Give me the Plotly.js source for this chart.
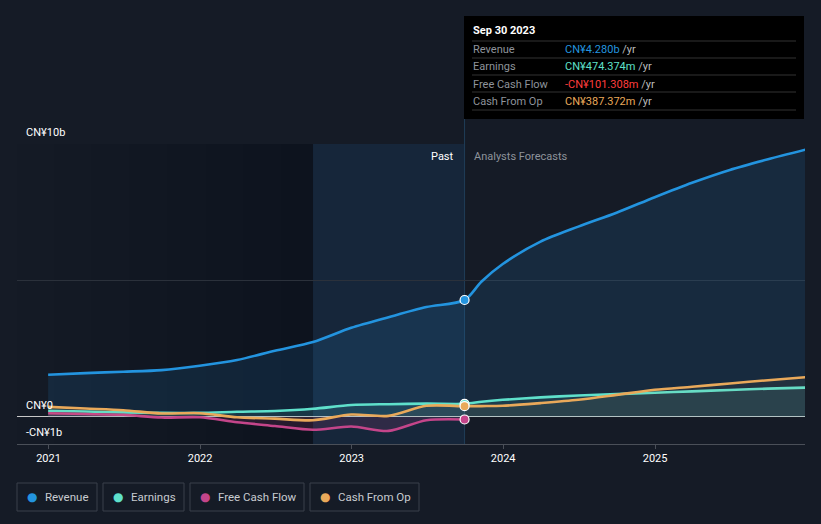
<!DOCTYPE html>
<html><head><meta charset="utf-8">
<script src="https://cdn.plot.ly/plotly-3.0.1.min.js"></script>
<style>html,body{margin:0;padding:0;background:#151b26;}#chart{width:821px;height:524px;}</style>
</head><body><div id="chart"></div>
<script>
// ---- data (CN¥, billions) ----
const pastDates = ['2020-12-31','2021-03-31','2021-06-30','2021-09-30','2021-12-31','2022-03-31','2022-06-30','2022-09-30','2022-12-31','2023-03-31','2023-06-30','2023-09-30'];
const revenuePast  = [1.54,1.60,1.65,1.71,1.87,2.08,2.42,2.74,3.26,3.65,4.02,4.280];
const earningsPast = [0.22,0.19,0.16,0.14,0.14,0.18,0.21,0.29,0.43,0.46,0.48,0.474];
const fcfPast      = [0.13,0.10,0.07,-0.03,-0.02,-0.20,-0.34,-0.48,-0.36,-0.52,-0.13,-0.101];
const cfoPast      = [0.36,0.30,0.24,0.12,0.13,-0.02,-0.07,-0.13,0.08,0.03,0.40,0.387];

const fcDates = ['2023-09-30','2023-11-10','2023-12-31','2024-03-31','2024-06-30','2024-09-30','2024-12-31','2025-03-31','2025-06-30','2025-09-30','2025-12-31'];
const revenueFc  = [4.280,4.96,5.60,6.42,6.97,7.48,8.05,8.58,9.05,9.44,9.80];
const earningsFc = [0.474,0.55,0.62,0.71,0.78,0.83,0.88,0.93,0.98,1.03,1.07];
const cfoFc      = [0.387,0.39,0.40,0.50,0.62,0.80,0.99,1.10,1.22,1.34,1.45];

const yTickVals = [10, 0, -1];
const yTickText = ['CN¥10b', 'CN¥0', '-CN¥1b'];
const xTickVals = ['2021-01-01','2022-01-01','2023-01-01','2024-01-01','2025-01-01'];
const xTickText = ['2021','2022','2023','2024','2025'];

const tipDate = 'Sep 30 2023';
const tipLabels = ['Revenue','Earnings','Free Cash Flow','Cash From Op'];
const tipValues = ['CN¥4.280b','CN¥474.374m','-CN¥101.308m','CN¥387.372m'];
const legendNames = ['Revenue','Earnings','Free Cash Flow','Cash From Op'];

const C = {rev:'#2394df', earn:'#5fe0cb', fcf:'#c4458a', cfo:'#e9a95a'};
const tipColors = ['#2394df','#5fe0cb','#ff3d3d','#e9a95a'];
const legendColors = [C.rev, C.earn, C.fcf, C.cfo];

// ---- pixel helpers for decorations ----
const L=17, R=805, T=144, B=444;
const px = x => (x-L)/(R-L);
const py = y => (B-y)/(B-T);
const font = 'Roboto, "Open Sans", sans-serif';

function line(x, y, color, fillc, name){
  return {x:x, y:y, type:'scatter', mode:'lines', name:name, line:{color:color, width:2.6, shape:'spline', smoothing:0.8},
          fill:'tozeroy', fillcolor:fillc, hoverinfo:'skip', showlegend:false, cliponaxis:false};
}
const traces = [
  line(pastDates.concat(fcDates.slice(1)), revenuePast.concat(revenueFc.slice(1)), C.rev, 'rgba(35,148,223,0.13)', 'Revenue'),
  line(pastDates.concat(fcDates.slice(1)), earningsPast.concat(earningsFc.slice(1)), C.earn, 'rgba(95,224,203,0.10)', 'Earnings'),
  line(pastDates, fcfPast, C.fcf, 'rgba(196,69,138,0.15)', 'Free Cash Flow'),
  line(pastDates.concat(fcDates.slice(1)), cfoPast.concat(cfoFc.slice(1)), C.cfo, 'rgba(233,169,90,0.06)', 'Cash From Op'),
];
const last = pastDates.length-1;
[[revenuePast,C.rev],[earningsPast,C.earn],[cfoPast,C.cfo],[fcfPast,C.fcf]].forEach(([arr,c])=>{
  traces.push({x:[pastDates[last]], y:[arr[last]], type:'scatter', mode:'markers', hoverinfo:'skip', showlegend:false, cliponaxis:false,
    marker:{size:9, color:c, line:{color:'#ffffff', width:1.2}}});
});

const shapes = [];
// darker gradient over older past
const gradStarts = ['2020-10-17','2021-01-15','2021-04-15','2021-07-15','2021-10-15','2022-01-15','2022-04-15','2022-07-15'];
gradStarts.forEach(s=>shapes.push({type:'rect', xref:'x', yref:'paper', x0:s, x1:'2022-09-30', y0:0, y1:1, fillcolor:'rgba(0,0,0,0.022)', line:{width:0}, layer:'below'}));
// last-12-months highlight
shapes.push({type:'rect', xref:'x', yref:'paper', x0:'2022-09-30', x1:'2023-09-30', y0:0, y1:1, fillcolor:'rgba(30,125,205,0.12)', line:{width:0}, layer:'below'});
// hover line
shapes.push({type:'line', xref:'x', yref:'paper', x0:'2023-09-30', x1:'2023-09-30', y0:0, y1:py(119), line:{color:'#1f3d58', width:1}, layer:'below'});
// tooltip box
shapes.push({type:'rect', xref:'paper', yref:'paper', x0:px(464), x1:px(804), y0:py(119), y1:py(16), fillcolor:'#000000', line:{width:0}});
[41,58,75,92,110].forEach(y=>shapes.push({type:'line', xref:'paper', yref:'paper', x0:px(472), x1:px(796), y0:py(y), y1:py(y), line:{color:'#333333', width:1}}));
// legend boxes
const legBoxes = [[17,97],[103,184],[190,304],[310,419]];
legBoxes.forEach(([a,b])=>shapes.push({type:'rect', xref:'paper', yref:'paper', x0:px(a), x1:px(b), y0:py(511), y1:py(483), line:{color:'#3b404b', width:1}, fillcolor:'rgba(0,0,0,0)'}));

const ann = [];
yTickVals.forEach((v,i)=>ann.push({xref:'paper', yref:'y', x:px(24), y:v, xanchor:'left', yanchor:'bottom', yshift:3, showarrow:false, text:yTickText[i], font:{family:font, size:11, color:'#ffffff'}}));
ann.push({xref:'paper', yref:'paper', x:px(456), y:py(156), xanchor:'right', yanchor:'middle', showarrow:false, text:'Past', font:{family:font, size:11, color:'#ffffff'}});
ann.push({xref:'paper', yref:'paper', x:px(472), y:py(156), xanchor:'left', yanchor:'middle', showarrow:false, text:'Analysts Forecasts', font:{family:font, size:11, color:'#8e939b'}});
ann.push({xref:'paper', yref:'paper', x:px(471), y:py(31), xanchor:'left', yanchor:'middle', showarrow:false, text:'<b>'+tipDate+'</b>', font:{family:font, size:11, color:'#ffffff'}});
[49,66,84,101].forEach((y,i)=>{
  ann.push({xref:'paper', yref:'paper', x:px(471), y:py(y), xanchor:'left', yanchor:'middle', showarrow:false, text:tipLabels[i], font:{family:font, size:11, color:'#8e939b'}});
  ann.push({xref:'paper', yref:'paper', x:px(563), y:py(y), xanchor:'left', yanchor:'middle', showarrow:false,
    text:'<span style="color:'+tipColors[i]+'">'+tipValues[i]+'</span> <span style="color:#bbbbbb">/yr</span>', font:{family:font, size:11, color:'#bbbbbb'}});
});
const legDot = [32,118,205,325];
legendNames.forEach((n,i)=>{
  ann.push({xref:'paper', yref:'paper', x:px(legDot[i]), y:py(497), xanchor:'center', yanchor:'middle', showarrow:false, text:'●', font:{family:'DejaVu Sans', size:12, color:legendColors[i]}});
  ann.push({xref:'paper', yref:'paper', x:px(legDot[i]+11), y:py(497), xanchor:'left', yanchor:'middle', showarrow:false, text:n, font:{family:font, size:11.5, color:'#c8cbd0'}});
});

const layout = {
  width:821, height:524, margin:{l:L, r:821-R, t:T, b:524-B},
  paper_bgcolor:'#151b26', plot_bgcolor:'#151b26',
  showlegend:false, hovermode:false,
  xaxis:{type:'date', range:['2020-10-17','2025-12-28'], tickvals:xTickVals, ticktext:xTickText, showgrid:false, zeroline:false,
         ticks:'outside', ticklen:4, tickcolor:'#4a4f58', showline:true, linecolor:'#4a4f58', linewidth:1,
         tickfont:{family:font, size:11, color:'#ffffff'}, fixedrange:true},
  yaxis:{range:[-1,10], tickvals:[0,5,10], showticklabels:false, showgrid:true, gridcolor:'#2b313b', gridwidth:1,
         zeroline:true, zerolinecolor:'#c8c8c8', zerolinewidth:1, fixedrange:true},
  shapes:shapes, annotations:ann
};
Plotly.newPlot('chart', traces, layout, {displayModeBar:false, staticPlot:true});
</script></body></html>
